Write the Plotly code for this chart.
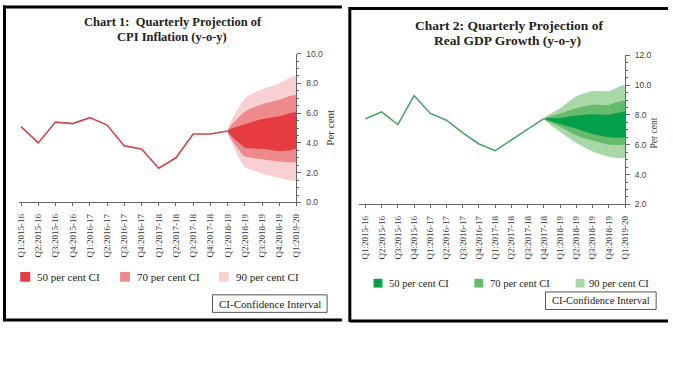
import plotly.graph_objects as go

W, H = 673, 366

quarters = ["Q1:2015-16", "Q2:2015-16", "Q3:2015-16", "Q4:2015-16",
            "Q1:2016-17", "Q2:2016-17", "Q3:2016-17", "Q4:2016-17",
            "Q1:2017-18", "Q2:2017-18", "Q3:2017-18", "Q4:2017-18",
            "Q1:2018-19", "Q2:2018-19", "Q3:2018-19", "Q4:2018-19",
            "Q1:2019-20"]

# Chart 1: CPI inflation
cpi_actual = [5.1, 4.0, 5.4, 5.3, 5.7, 5.2, 3.8, 3.6, 2.3, 3.0, 4.6, 4.6, 4.8]
cpi_fan_x = quarters[12:]
cpi_50_upper = [4.8, 5.25, 5.6, 5.8, 6.05]
cpi_50_lower = [4.8, 3.7, 3.6, 3.45, 3.65]
cpi_70_upper = [4.8, 6.1, 6.6, 6.9, 7.2]
cpi_70_lower = [4.8, 3.1, 2.9, 2.75, 2.75]
cpi_90_upper = [4.8, 7.0, 7.6, 8.0, 8.5]
cpi_90_lower = [4.8, 2.4, 1.95, 1.65, 1.5]

# Chart 2: Real GDP growth
gdp_actual = [7.75, 8.2, 7.35, 9.3, 8.1, 7.65, 6.8, 6.05, 5.6, 6.35, 7.05, 7.75]
gdp_fan_x = quarters[11:]
gdp_50_upper = [7.75, 7.8, 7.97, 8.05, 8.02, 8.2]
gdp_50_lower = [7.75, 7.4, 7.08, 6.72, 6.5, 6.53]
gdp_70_upper = [7.75, 8.1, 8.45, 8.68, 8.67, 8.95]
gdp_70_lower = [7.75, 7.2, 6.62, 6.28, 6.0, 6.05]
gdp_90_upper = [7.75, 8.45, 9.25, 9.6, 9.6, 10.0]
gdp_90_lower = [7.75, 6.88, 6.12, 5.55, 5.2, 5.15]

ci_labels = ["50 per cent CI", "70 per cent CI", "90 per cent CI"]
red_cols = ["#e63c40", "#ef8a8c", "#f9d0d1"]
green_cols = ["#04a04a", "#66bc6c", "#a8d8a8"]
red_line = "#cc4848"
green_line = "#4aa565"

SERIF = "Liberation Serif"
SANS = "Liberation Sans"


def px(x):
    return x / W


def py(y):
    return 1 - y / H


fig = go.Figure()


def add_fan(xs, bands, cols, xa, ya):
    # bands ordered widest first
    for (up, lo), c in zip(bands, cols):
        fig.add_trace(go.Scatter(
            x=list(xs) + list(xs)[::-1], y=list(up) + list(lo)[::-1],
            fill="toself", fillcolor=c, line=dict(width=0, color=c, shape="spline", smoothing=0.5),
            mode="lines", hoverinfo="skip", showlegend=False, xaxis=xa, yaxis=ya))


add_fan(cpi_fan_x,
        [(cpi_90_upper, cpi_90_lower), (cpi_70_upper, cpi_70_lower), (cpi_50_upper, cpi_50_lower)],
        red_cols[::-1], "x", "y")
fig.add_trace(go.Scatter(x=quarters[:len(cpi_actual)], y=cpi_actual, mode="lines",
                         line=dict(color=red_line, width=1.6), showlegend=False,
                         xaxis="x", yaxis="y"))

add_fan(gdp_fan_x,
        [(gdp_90_upper, gdp_90_lower), (gdp_70_upper, gdp_70_lower), (gdp_50_upper, gdp_50_lower)],
        green_cols[::-1], "x2", "y2")
fig.add_trace(go.Scatter(x=quarters[:len(gdp_actual)], y=gdp_actual, mode="lines",
                         line=dict(color=green_line, width=1.6), showlegend=False,
                         xaxis="x2", yaxis="y2"))

axis_line = "#666666"
xcommon = dict(type="category", categoryorder="array", categoryarray=quarters,
               tickangle=-90, ticks="outside", ticklen=3, tickcolor=axis_line,
               showline=True, linecolor=axis_line, linewidth=1, showgrid=False,
               zeroline=False, tickfont=dict(family=SERIF, size=9, color="#333333"),
               ticklabelstandoff=4)
ycommon = dict(side="right", dtick=2, tickformat=".1f", ticks="outside", ticklen=4,
               tickcolor=axis_line, showline=True, linecolor=axis_line, linewidth=1,
               showgrid=False, zeroline=False,
               minor=dict(dtick=0.5, ticks="outside", ticklen=2, tickcolor=axis_line),
               tickfont=dict(family=SANS, size=8.5, color="#444444"), ticklabelstandoff=3)

fig.update_layout(
    width=W, height=H, margin=dict(l=0, r=0, t=0, b=0),
    paper_bgcolor="white", plot_bgcolor="white",
    xaxis=dict(domain=[px(16.5), px(297)], range=[-0.1, 16], anchor="y", **xcommon),
    yaxis=dict(domain=[py(203), py(50)], range=[0, 10], anchor="x", **ycommon),
    xaxis2=dict(domain=[px(360.2), px(629.5)], range=[-0.4, 16], anchor="y2", **xcommon),
    yaxis2=dict(domain=[py(205), py(51.7)], range=[2, 12], anchor="x2", **ycommon),
)

ann = []
shapes = []

# titles
ann.append(dict(x=px(172), y=py(17), text="<b>Chart 1:  Quarterly Projection of</b>",
                font=dict(family=SERIF, size=12.5, color="#222222")))
ann.append(dict(x=px(171), y=py(33), text="<b>CPI Inflation (y-o-y)</b>",
                font=dict(family=SERIF, size=12.5, color="#222222")))
ann.append(dict(x=px(512), y=py(21.5), text="<b>Chart 2: Quarterly Projection of</b>",
                font=dict(family=SERIF, size=13.5, color="#222222")))
ann.append(dict(x=px(511), y=py(37), text="<b>Real GDP Growth (y-o-y)</b>",
                font=dict(family=SERIF, size=13.5, color="#222222")))

# axis titles
ann.append(dict(x=px(330), y=py(126), text="Per cent", textangle=-90,
                font=dict(family=SERIF, size=11, color="#333333")))
ann.append(dict(x=px(659), y=py(132), text="Per cent", textangle=-90,
                font=dict(family=SERIF, size=9.5, color="#444444")))

# legends (manual)
leg1 = [(17.5, 32.5), (118.5, 133.5), (218.5, 233.5)]
for (sx, tx), c, lab in zip(leg1, red_cols, ci_labels):
    shapes.append(dict(type="rect", xref="paper", yref="paper", x0=px(sx), x1=px(sx + 10),
                       y0=py(284.5), y1=py(274.5), fillcolor=c, line=dict(width=0)))
    ann.append(dict(x=px(tx), y=py(279.5), text=lab, xanchor="left",
                    font=dict(family=SERIF, size=11, color="#222222")))
leg2 = [(375, 388.5), (477, 490.5), (579.5, 591.5)]
for (sx, tx), c, lab in zip(leg2, green_cols, ci_labels):
    shapes.append(dict(type="rect", xref="paper", yref="paper", x0=px(sx), x1=px(sx + 9),
                       y0=py(290.5), y1=py(281.5), fillcolor=c, line=dict(width=0)))
    ann.append(dict(x=px(tx), y=py(286), text=lab, xanchor="left",
                    font=dict(family=SERIF, size=10.5, color="#222222")))

# CI boxes
for (x0, x1, y0, y1, fs) in [(212, 328, 298, 316, 11), (549, 661, 295, 313, 10.5)]:
    shapes.append(dict(type="rect", xref="paper", yref="paper", x0=px(x0), x1=px(x1),
                       y0=py(y1), y1=py(y0), line=dict(color="#555555", width=1)))
    ann.append(dict(x=px((x0 + x1) / 2), y=py((y0 + y1) / 2), text="CI-Confidence Interval",
                    font=dict(family=SERIF, size=fs, color="#222222")))

# panel borders
def line(x0, y0, x1, y1):
    shapes.append(dict(type="line", xref="paper", yref="paper", x0=px(x0), y0=py(y0),
                       x1=px(x1), y1=py(y1), line=dict(color="black", width=3)))

line(1.5, 0.5, 1.5, 325)
line(0, 2, 343, 2)
line(0, 323.8, 343, 323.8)
line(351, 2, 351, 326)
line(351, 3.5, 673, 3.5)
line(351, 324.8, 673, 324.8)

for a in ann:
    a.setdefault("xref", "paper")
    a.setdefault("yref", "paper")
    a.setdefault("showarrow", False)
    a.setdefault("xanchor", "center")
    a.setdefault("yanchor", "middle")

fig.update_layout(annotations=ann, shapes=shapes)
fig.write_html("out.html", config={"displayModeBar": False},
               post_script="document.body.style.margin='0';document.body.style.padding='0';"
                           "document.body.style.overflow='hidden';")
